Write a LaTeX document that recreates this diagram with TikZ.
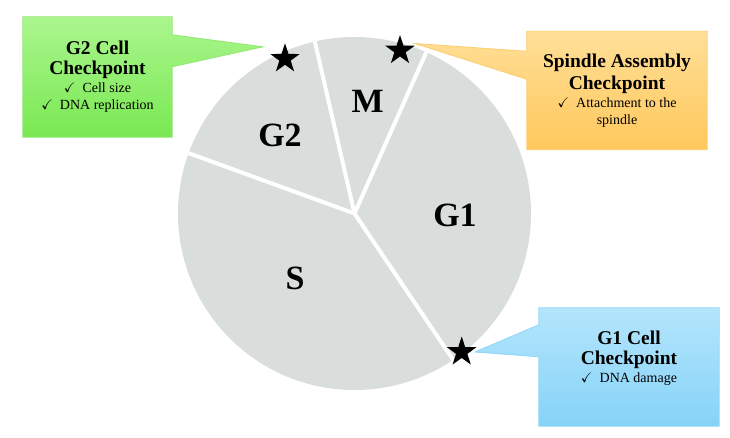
\documentclass[tikz,border=0pt]{standalone}
\usepackage{fontspec}
\setmainfont{Liberation Serif}
\usepackage{amssymb}
\usetikzlibrary{shapes.geometric,backgrounds,positioning,calc}

\definecolor{piegray}{RGB}{217,221,220}
\definecolor{greentop}{RGB}{170,246,142}
\definecolor{greenbot}{RGB}{122,232,82}
\definecolor{greenline}{RGB}{145,232,115}
\definecolor{orangetop}{RGB}{255,223,152}
\definecolor{orangebot}{RGB}{255,200,92}
\definecolor{orangeline}{RGB}{252,205,110}
\definecolor{bluetop}{RGB}{180,229,252}
\definecolor{bluebot}{RGB}{134,211,248}
\definecolor{blueline}{RGB}{145,214,246}

\newcommand{\cptitle}[1]{{\fontsize{19.5}{20}\selectfont\bfseries #1}}
\newcommand{\checkitem}{$\checkmark$\enspace}

\begin{document}
\begin{tikzpicture}[
            x=1pt, y=-1pt,
            phase/.style={
                font=\fontsize{34}{38}\selectfont\bfseries,
                inner sep=0pt
            },
            spoke/.style={
                white,
                line width=4pt
            },
            checkstar/.style={
                star,
                star points=5,
                star point ratio=2.6,
                fill=black,
                minimum size=31pt,
                inner sep=0pt
            },
            boxarea/.style={
                rectangle,
                inner sep=0pt
            },
            boxtext/.style={
                align=center,
                font=\fontsize{14}{17}\selectfont
            },
            callout/.style={
                line width=0.8pt
            }
        ]

            \useasboundingbox (0,0) rectangle (730,437);

            % Parameters
            \def\rPie{176.5}

            % --- Cell cycle pie ---
            \node[circle, fill=piegray, minimum size=2*\rPie pt, inner sep=0pt] (pie) at (354.5,213.5) {};

            % phase borders
            \foreach \a in {160.2,103.4,66.2,-56.6} {
                \draw[spoke] (pie.center) -- (pie.\a);
            }

            % phase labels
            \node[phase] (phM)  at (367.7,101.7) {M};
            \node[phase] (phG2) at (280,135)     {G2};
            \node[phase] (phG1) at (455,215)     {G1};
            \node[phase] (phS)  at (295,278)     {S};

            % checkpoint stars
            \node[checkstar] (g2star) at (285,58.8)  {};
            \node[checkstar] (spstar) at (400,50.5)  {};
            \node[checkstar] (g1star) at (461.7,352) {};

            % pointer tips
            \coordinate (g2tip) at ([shift={(-22,-12)}]g2star.center);
            \coordinate (sptip) at ([shift={(15,-7)}]spstar.center);
            \coordinate (g1tip) at ([shift={(13,0)}]g1star.center);

            % --- Checkpoint boxes ---
            \node[boxarea, minimum width=149pt, minimum height=120pt] (g2box) at (97.5,77)  {};
            \node[boxarea, minimum width=180pt, minimum height=118pt] (spbox) at (617,90.5) {};
            \node[boxarea, minimum width=180pt, minimum height=118pt] (g1box) at (629,367)  {};

            \node[boxtext] (g2text) at (g2box.center)
                {\cptitle{G2 Cell}\\[3pt]\cptitle{Checkpoint}\\[1pt]\checkitem Cell size\\\checkitem DNA replication};
            \node[boxtext] (sptext) at (spbox.center)
                {\cptitle{Spindle Assembly}\\[3pt]\cptitle{Checkpoint}\\[1pt]\checkitem Attachment to the\\spindle};
            \node[boxtext] (g1text) at ([yshift=9pt]g1box.center)
                {\cptitle{G1 Cell}\\[3pt]\cptitle{Checkpoint}\\[1pt]\checkitem DNA damage};

            % callout shapes behind everything
            \begin{scope}[on background layer]
                \shade[callout, top color=greentop, bottom color=greenbot, draw=greenline]
                    (g2box.north west) -- (g2box.north east)
                    -- ([yshift=-18pt]g2box.north east) -- (g2tip)
                    -- ([yshift=-50pt]g2box.north east)
                    -- (g2box.south east) -- (g2box.south west) -- cycle;
                \shade[callout, top color=orangetop, bottom color=orangebot, draw=orangeline]
                    (spbox.north west) -- (spbox.north east)
                    -- (spbox.south east) -- (spbox.south west)
                    -- ([yshift=-48pt]spbox.north west) -- (sptip)
                    -- ([yshift=-20pt]spbox.north west) -- cycle;
                \shade[callout, top color=bluetop, bottom color=bluebot, draw=blueline]
                    (g1box.north west) -- (g1box.north east)
                    -- (g1box.south east) -- (g1box.south west)
                    -- ([yshift=-49pt]g1box.north west) -- (g1tip)
                    -- ([yshift=-17pt]g1box.north west) -- cycle;
            \end{scope}

        \end{tikzpicture}
\end{document}
